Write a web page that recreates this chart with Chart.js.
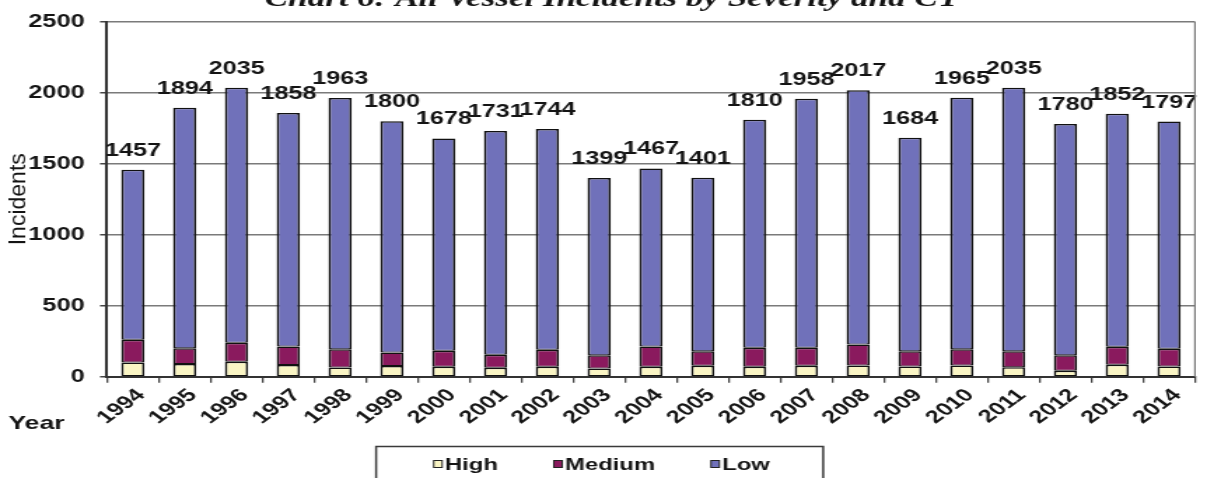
<!DOCTYPE html>
<html>
<head>
<meta charset="utf-8">
<script src="https://cdn.jsdelivr.net/npm/chart.js@4/dist/chart.umd.min.js"></script>
<style>
  html, body { margin: 0; padding: 0; background: #fff; overflow: hidden; }
  #wrap {
    position: absolute; left: 0; top: 0;
    width: 862px; height: 478px;
    transform: scaleX(1.40023); transform-origin: 0 0;
  }
</style>
</head>
<body>
<div id="wrap"><canvas id="chart" width="862" height="478"></canvas></div>
<script>
// Vessel incidents per calendar year, split by severity
const years = ['1994','1995','1996','1997','1998','1999','2000','2001','2002','2003','2004',
               '2005','2006','2007','2008','2009','2010','2011','2012','2013','2014'];
const highIncidents   = [100, 90, 105, 82, 65, 75, 70, 63, 70, 58, 70, 77, 70, 77, 79, 72, 79, 67, 42, 84, 72];
const mediumIncidents = [160, 110, 135, 130, 128, 95, 113, 92, 120, 93, 143, 102, 134, 127, 148, 107, 114, 112, 109, 127, 125];
const lowIncidents    = [1197, 1694, 1795, 1646, 1770, 1630, 1495, 1576, 1554, 1248, 1254, 1222, 1606, 1754, 1790, 1505, 1772, 1856, 1629, 1641, 1600];
const yTicks = [0, 500, 1000, 1500, 2000, 2500];
const seriesNames = ['High', 'Medium', 'Low'];
const seriesColors = ['#faf5c4', '#8a1a5e', '#7071ba'];
const chartTitle = 'Chart 6: All Vessel Incidents by Severity and CY';
const axisTitleY = 'Incidents';
const axisTitleX = 'Year';

const SANS = '"Liberation Sans", Arial, sans-serif';
const INK = '#141414';
const STRETCH = 1.40023;

// Heading across the top edge
const headingPlugin = {
  id: 'heading',
  afterDraw(chart) {
    const ctx = chart.ctx;
    ctx.save();
    ctx.font = 'italic bold 25px "Liberation Serif", "Times New Roman", serif';
    ctx.fillStyle = INK;
    ctx.textAlign = 'center';
    ctx.textBaseline = 'alphabetic';
    ctx.fillText(chartTitle, 437, 6);
    ctx.restore();
  }
};

// Stack totals above each bar
const totalsPlugin = {
  id: 'totals',
  afterDatasetsDraw(chart) {
    const ctx = chart.ctx;
    const ds = chart.data.datasets;
    const topMeta = chart.getDatasetMeta(ds.length - 1);
    ctx.save();
    ctx.font = 'bold 18px ' + SANS;
    ctx.fillStyle = INK;
    ctx.textAlign = 'center';
    ctx.textBaseline = 'alphabetic';
    chart.data.labels.forEach((_, i) => {
      const total = ds.reduce((s, d) => s + d.data[i], 0);
      const bar = topMeta.data[i];
      ctx.fillText(String(total), bar.x, bar.y - 14);
    });
    ctx.restore();
  }
};

// Plot frame on the right, axis captions and the boxed legend
const decorPlugin = {
  id: 'decor',
  afterDraw(chart) {
    const ctx = chart.ctx;
    const a = chart.chartArea;
    ctx.save();
    ctx.strokeStyle = '#7a7a7a';
    ctx.lineWidth = 1.2;
    ctx.beginPath();
    ctx.moveTo(a.right, a.top);
    ctx.lineTo(a.right, a.bottom);
    ctx.stroke();

    // vertical caption, drawn with its own proportions
    ctx.save();
    ctx.translate(13.5, (a.top + a.bottom) / 2);
    ctx.scale(1 / STRETCH, 1);
    ctx.rotate(-Math.PI / 2);
    ctx.font = '23px ' + SANS;
    ctx.fillStyle = INK;
    ctx.textAlign = 'center';
    ctx.textBaseline = 'middle';
    ctx.fillText(axisTitleY, 0, 0);
    ctx.restore();

    ctx.font = 'bold 19px ' + SANS;
    ctx.fillStyle = INK;
    ctx.textAlign = 'left';
    ctx.textBaseline = 'middle';
    ctx.fillText(axisTitleX, 6, 424);

    // legend box
    const boxL = 268.6, boxR = 587.9, boxT = 446.5;
    ctx.strokeStyle = '#3a3a3a';
    ctx.lineWidth = 1.5;
    ctx.strokeRect(boxL, boxT, boxR - boxL, 60);

    ctx.font = 'bold 17px ' + SANS;
    const mark = 6, gap = 2, spacing = 40;
    const ds = chart.data.datasets;
    const widths = ds.map(d => mark + gap + ctx.measureText(d.label).width);
    const total = widths.reduce((s, w) => s + w, 0) + spacing * (ds.length - 1);
    let x = (boxL + boxR) / 2 - total / 2 + 1.5;
    const cy = 464;
    ds.forEach((d, i) => {
      ctx.fillStyle = d.backgroundColor;
      ctx.fillRect(x, cy - 3.5, mark, 7);
      ctx.strokeStyle = '#222';
      ctx.lineWidth = 1;
      ctx.strokeRect(x, cy - 3.5, mark, 7);
      ctx.fillStyle = INK;
      ctx.textAlign = 'left';
      ctx.textBaseline = 'middle';
      ctx.fillText(d.label, x + mark + gap, cy + 1);
      x += widths[i] + spacing;
    });
    ctx.restore();
  }
};

const seriesValues = [highIncidents, mediumIncidents, lowIncidents];

new Chart(document.getElementById('chart'), {
  type: 'bar',
  data: {
    labels: years,
    datasets: seriesNames.map((name, k) => ({
      label: name,
      data: seriesValues[k],
      backgroundColor: seriesColors[k],
      borderColor: '#111',
      borderWidth: { top: 1.5, bottom: 1, left: 1.8, right: 1.8 },
      borderSkipped: false,
      barPercentage: 0.45,
      categoryPercentage: 1
    }))
  },
  options: {
    responsive: false,
    animation: false,
    events: [],
    layout: { padding: { top: 18.3, right: 8.6, bottom: 0, left: 0 } },
    plugins: {
      legend: { display: false },
      title: { display: false },
      tooltip: { enabled: false }
    },
    scales: {
      x: {
        stacked: true,
        grid: { offset: true, drawOnChartArea: false, drawTicks: true, tickLength: 6, color: '#444', lineWidth: 1.3 },
        border: { color: '#333', width: 2 },
        ticks: {
          autoSkip: false, minRotation: 45, maxRotation: 45,
          font: { family: SANS, size: 18, weight: 'bold' },
          color: INK, padding: 2, labelOffset: 6
        },
        afterFit(scale) { scale.height = 478 - 376.7; }
      },
      y: {
        stacked: true,
        min: 0, max: 2500,
        afterBuildTicks(scale) { scale.ticks = yTicks.map(v => ({ value: v })); },
        grid: { color: '#7a7a7a', lineWidth: 1.5, tickLength: 5, tickColor: '#444' },
        border: { color: '#333', width: 2 },
        ticks: {
          font: { family: SANS, size: 18, weight: 'bold' }, color: INK, padding: 11,
          callback: v => String(v)
        },
        afterFit(scale) { scale.width = 76.4; }
      }
    }
  },
  plugins: [totalsPlugin, decorPlugin, headingPlugin]
});
</script>
</body>
</html>
